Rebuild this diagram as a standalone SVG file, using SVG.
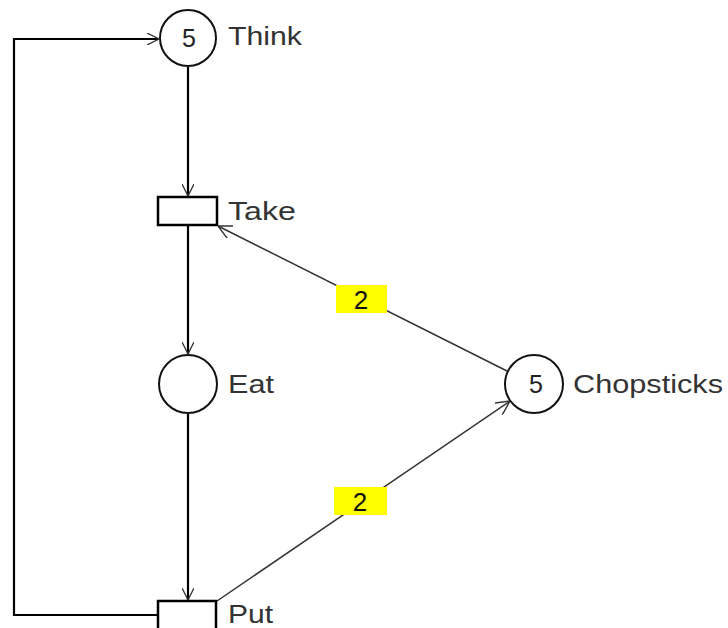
<svg xmlns="http://www.w3.org/2000/svg" width="728" height="628" viewBox="0 0 728 628">
<defs>
<marker id="arr" viewBox="0 0 12 12" refX="12" refY="6" markerWidth="12" markerHeight="12" markerUnits="userSpaceOnUse" orient="auto">
<path d="M0,0 L12,6 L0,12" fill="none" stroke="#333" stroke-width="1.3"/>
</marker>
<marker id="arr2" viewBox="0 0 12 12" refX="12" refY="6" markerWidth="14" markerHeight="14" markerUnits="userSpaceOnUse" orient="auto">
<path d="M0,0 L12,6 L0,12" fill="none" stroke="#333" stroke-width="1.2"/>
</marker>
</defs>
<style>
.place{fill:#fff;stroke:#111;stroke-width:2}
.trans{fill:#fff;stroke:#000;stroke-width:2.5}
.lbl{font-family:"Liberation Sans",Arial,sans-serif;font-size:26px;fill:#333}
.tok{font-family:"Liberation Sans",Arial,sans-serif;font-size:25px;fill:#222;text-anchor:middle}
.arc{fill:none;stroke:#000;stroke-width:2.2}
.darc{fill:none;stroke:#333;stroke-width:1.5}
.wbox{fill:#ffff00}
.wt{font-family:"Liberation Sans",Arial,sans-serif;font-size:26px;fill:#111;text-anchor:middle}
</style>
<rect width="728" height="628" fill="#fff"/>
<g id="connectors">
<polyline class="arc" points="157,615 14,615 14,39 159,39" marker-end="url(#arr)"/>
<line class="arc" x1="188" y1="67" x2="188" y2="196" marker-end="url(#arr)"/>
<line class="arc" x1="188" y1="226" x2="188" y2="354" marker-end="url(#arr)"/>
<line class="arc" x1="188" y1="414" x2="188" y2="600" marker-end="url(#arr)"/>
<line class="darc" x1="507" y1="371" x2="218" y2="226" marker-end="url(#arr2)"/>
<line class="darc" x1="217" y1="601" x2="510" y2="401" marker-end="url(#arr2)"/>
<g id="w1"><rect class="wbox" x="336" y="285" width="51" height="28"/><text class="wt" x="361" y="309">2</text></g>
<g id="w2"><rect class="wbox" x="334" y="487" width="53" height="28"/><text class="wt" x="360" y="511">2</text></g>
</g>
<g id="think">
<circle class="place" cx="188" cy="38" r="28"/>
<text class="tok" x="189" y="47">5</text>
<text class="lbl" x="228" y="45" textLength="74" lengthAdjust="spacingAndGlyphs">Think</text>
</g>
<g id="take">
<rect class="trans" x="158" y="197" width="59" height="28"/>
<text class="lbl" x="228" y="220" textLength="68" lengthAdjust="spacingAndGlyphs">Take</text>
</g>
<g id="eat">
<circle class="place" cx="188" cy="384" r="29"/>
<text class="lbl" x="228" y="393" textLength="46" lengthAdjust="spacingAndGlyphs">Eat</text>
</g>
<g id="chopsticks">
<circle class="place" cx="534" cy="384" r="29"/>
<text class="tok" x="536" y="393">5</text>
<text class="lbl" x="573" y="393" textLength="150" lengthAdjust="spacingAndGlyphs">Chopsticks</text>
</g>
<g id="put">
<rect class="trans" x="158" y="601" width="58" height="30"/>
<text class="lbl" x="228" y="623" textLength="45" lengthAdjust="spacingAndGlyphs">Put</text>
</g>
</svg>
